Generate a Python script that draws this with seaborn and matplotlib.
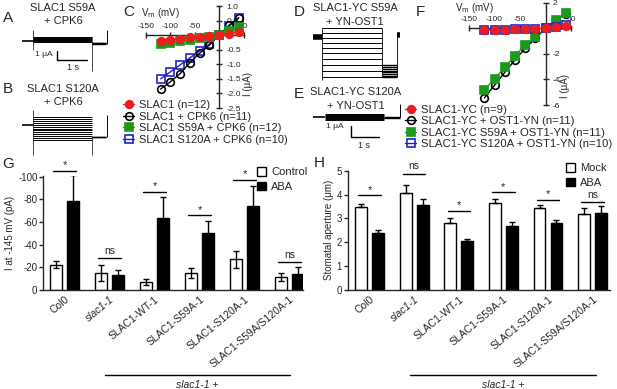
import numpy as np
import pandas as pd
import matplotlib
matplotlib.use('Agg')
import matplotlib.pyplot as plt
from matplotlib.patches import Patch
from matplotlib.lines import Line2D
import seaborn as sns

W, H = 617, 389

# ---------------- data ----------------
# I-V curves (panel C), uA
vm = [-120, -100, -80, -60, -40, -20, 0, 20, 40]
c_slac1 = [-0.2, -0.16, -0.12, -0.08, -0.05, -0.02, 0.0, 0.05, 0.1]
c_slac1_cpk6 = [-1.85, -1.6, -1.32, -0.94, -0.62, -0.34, 0.0, 0.34, 0.6]
c_s59a_cpk6 = [-0.3, -0.26, -0.21, -0.17, -0.11, -0.05, 0.0, 0.15, 0.27]
c_s120a_cpk6 = [-1.5, -1.26, -1.02, -0.78, -0.54, -0.3, 0.0, 0.3, 0.58]
c_labels = ['SLAC1 (n=12)', 'SLAC1 + CPK6 (n=11)',
            'SLAC1 S59A + CPK6 (n=12)', 'SLAC1 S120A + CPK6 (n=10)']

# I-V curves (panel F), uA
f_slac1_yc = [-0.13, -0.12, -0.1, -0.08, -0.06, -0.04, 0.0, 0.1, 0.2]
f_slac1_yc_ost1 = [-5.45, -4.44, -3.44, -2.47, -1.56, -0.78, 0.0, 0.62, 1.15]
f_s59a_ost1 = [-4.82, -3.97, -3.03, -2.15, -1.32, -0.65, 0.0, 0.65, 1.17]
f_s120a_ost1 = [-0.13, -0.12, -0.1, -0.08, -0.06, -0.04, 0.0, 0.12, 0.26]
f_labels = ['SLAC1-YC (n=9)', 'SLAC1-YC + OST1-YN (n=11)',
            'SLAC1-YC S59A + OST1-YN (n=11)', 'SLAC1-YC S120A + OST1-YN (n=10)']

# bar panels
lines = ['Col0', 'slac1-1', 'SLAC1-WT-1', 'SLAC1-S59A-1', 'SLAC1-S120A-1', 'SLAC1-S59A/S120A-1']
g_control = [-22.5, -15, -7, -15, -27, -11.5]
g_control_err = [3.5, 7, 2.3, 4, 7.5, 3.2]
g_aba = [-78.7, -13, -64, -50, -74, -14.5]
g_aba_err = [23, 5, 18, 10.8, 18, 6]
g_sig_y = [-105.5, -28.5, -87, -66, -97, -25]
g_sig = ['*', 'ns', '*', '*', '*', 'ns']

h_mock = [3.48, 4.05, 2.82, 3.63, 3.43, 3.17]
h_mock_err = [0.14, 0.33, 0.21, 0.2, 0.12, 0.25]
h_aba = [2.37, 3.55, 2.05, 2.67, 2.8, 3.21]
h_aba_err = [0.13, 0.25, 0.1, 0.2, 0.13, 0.32]
h_sig_y = [3.97, 4.88, 3.3, 4.09, 3.77, 3.67]
h_sig = ['*', 'ns', '*', '*', '*', 'ns']

# current traces (uA levels during / after the 2 s pulse)
a_levels = [0.48, 0.41, 0.34, 0.27, 0.2, 0.13, 0.06, 0.0, -0.07, -0.14]
a_tail = [-0.2, -0.25, -0.3]
b_levels = [0.89, 0.67, 0.44, 0.22, 0.0, -0.2, -0.4, -0.6, -0.8, -1.0, -1.2, -1.4, -1.67]
b_tail = [-1.3, -1.35]
d_levels = [0.79, 0.34, -0.06, -0.52, -1.03, -1.48, -2.0, -2.55, -3.09, -3.61]
d_tail = [-2.5, -2.7, -2.9, -3.05, -3.2, -3.35, -3.5, -3.65]
e_levels = [0.27, 0.18, 0.1, 0.02, -0.06, -0.14, -0.23]
e_tail = [0.0, -0.08]

# ---------------- style ----------------
sns.set_style('ticks')
plt.rcParams['font.family'] = ['Liberation Sans', 'DejaVu Sans']
plt.rcParams['axes.unicode_minus'] = False
plt.rcParams['axes.linewidth'] = 1.0

fig = plt.figure(figsize=(W / 100, H / 100), dpi=100)


def fx(x):
    return x / W


def fy(y):
    return 1 - y / H


def add_ax(l, t, r, b):
    return fig.add_axes([l / W, 1 - b / H, (r - l) / W, (b - t) / H])


def ftext(x, y, s, **kw):
    kw.setdefault('ha', 'center')
    kw.setdefault('va', 'center')
    fig.text(fx(x), fy(y), s, **kw)


# panel letters
for lab, x, y in [('A', 8, 18), ('B', 8, 89), ('C', 129, 12), ('D', 299, 12),
                  ('E', 299, 94), ('F', 420, 12), ('G', 8, 164), ('H', 319, 163)]:
    ftext(x, y, lab, fontsize=11)


# ---------------- traces ----------------
def blank(ax):
    ax.set_axis_off()


def trace(ax, pre, end, tail_end, levels, tail, hold_lw=1.2):
    ax.hlines(0, pre, 0, color='black', lw=hold_lw)
    ax.hlines(levels, 0, end, color='black', lw=0.7)
    ax.hlines(tail, end, tail_end, color='black', lw=1.0)


axA = add_ax(20, 22, 112, 72)
axA.set_xlim(-0.433, 2.633)
axA.set_ylim(-3.44, 2.11)
trace(axA, -0.37, 1.97, 2.43, a_levels, a_tail)
axA.vlines(0, -1.0, 1.2, color='black', lw=0.5)
axA.vlines(1.97, -3.3, -0.14, color='black', lw=0.5)
axA.vlines(2.46, -0.3, 1.2, color='black', lw=0.7)
axA.plot([0.8, 0.8, 1.8], [-1.11, -2.11, -2.11], color='black', lw=1)
blank(axA)
ftext(44, 55, '1 μA', fontsize=6)
ftext(73, 68, '1 s', fontsize=6.5)
ftext(63, 8, 'SLAC1 S59A', fontsize=8)
ftext(63, 21, '+ CPK6', fontsize=8)

axB = add_ax(20, 92, 112, 157)
axB.set_xlim(-0.433, 2.633)
axB.set_ylim(-3.56, 3.67)
trace(axB, -0.37, 1.97, 2.43, b_levels, b_tail)
axB.vlines(0, -3.3, 1.67, color='black', lw=0.5)
axB.vlines(1.97, -3.3, -1.3, color='black', lw=0.5)
axB.vlines(2.46, -1.3, 1.1, color='black', lw=0.7)
blank(axB)
ftext(63, 89, 'SLAC1 S120A', fontsize=8)
ftext(63, 102, '+ CPK6', fontsize=8)

axD = add_ax(305, 24, 410, 84)
axD.set_xlim(-0.607, 3.143)
axD.set_ylim(-4.27, 1.18)
trace(axD, -0.32, 2.14, 2.68, d_levels, d_tail, hold_lw=4)
axD.vlines(0, -3.9, 0.79, color='black', lw=0.6)
axD.vlines(2.14, -3.61, 0.79, color='black', lw=0.6)
axD.vlines(2.68, -3.65, 0.2, color='black', lw=0.6)
axD.hlines(0.15, 2.68, 2.8, color='black', lw=4)
blank(axD)
ftext(355, 8, 'SLAC1-YC S59A', fontsize=8)
ftext(355, 22, '+ YN-OST1', fontsize=8)

axE = add_ax(305, 100, 410, 150)
axE.set_xlim(-0.714, 3.04)
axE.set_ylim(-3.0, 1.545)
trace(axE, -0.43, 2.1, 2.68, e_levels, e_tail)
axE.vlines(2.68, 0, 1.18, color='black', lw=0.7)
axE.plot([0.93, 0.93, 1.93], [-0.82, -1.82, -1.82], color='black', lw=1)
blank(axE)
ftext(335, 127, '1 μA', fontsize=6)
ftext(364, 146, '1 s', fontsize=6.5)
ftext(356, 92, 'SLAC1-YC S120A', fontsize=8)
ftext(356, 106, '+ YN-OST1', fontsize=8)


# ---------------- I-V panels ----------------
def iv_style(ax, xlim, ylim, xticks, yticks, yfmt):
    ax.set_xlim(xlim)
    ax.set_ylim(ylim)
    ax.spines['left'].set_visible(False)
    ax.spines['bottom'].set_visible(False)
    ax.spines['right'].set_visible(True)
    ax.spines['top'].set_visible(True)
    ax.spines['right'].set_position(('data', 0))
    ax.spines['top'].set_position(('data', 0))
    ax.yaxis.tick_right()
    ax.xaxis.tick_top()
    ax.set_xticks(xticks)
    ax.set_xticklabels([str(t) for t in xticks])
    ax.set_yticks(yticks)
    ax.set_yticklabels([yfmt % t for t in yticks])
    ax.tick_params(axis='both', direction='inout', length=4, width=1, labelsize=6)
    ax.tick_params(axis='x', pad=1.5)
    ax.tick_params(axis='y', pad=3)
    ax.set_xlabel('')
    ax.set_ylabel('')
    ax.patch.set_alpha(0)


def iv_line(ax, y, color, marker, mfc, z):
    sns.lineplot(x=vm, y=y, ax=ax, color=color, marker=marker, markersize=5.5,
                 markerfacecolor=mfc, markeredgecolor=color, markeredgewidth=1.2,
                 lw=1, legend=False, zorder=z)
    return ax.lines[-1]


axC = add_ax(146, 6, 243.6, 108)
hC = [iv_line(axC, c_slac1, '#ee1c1c', 'o', '#ee1c1c', 6),
      iv_line(axC, c_slac1_cpk6, 'black', 'o', 'none', 4),
      iv_line(axC, c_s59a_cpk6, '#1a9a1a', 's', '#1a9a1a', 5),
      iv_line(axC, c_s120a_cpk6, '#2222cc', 's', 'none', 3)]
iv_style(axC, (-150, 45), (-2.5, 1.0), [-150, -100, -50, 50],
         [1.0, 0.5, -0.5, -1.0, -1.5, -2.0, -2.5], '%.1f')
ftext(160, 13, r'V$_\mathrm{m}$ (mV)', fontsize=7)
ftext(248, 84, 'I (μA)', fontsize=7, rotation=90)
fig.legend(hC, c_labels, loc='upper left', bbox_to_anchor=(fx(123), fy(100)),
           frameon=False, fontsize=8, handlelength=1.0, handletextpad=0.4,
           labelspacing=0.15, borderpad=0, borderaxespad=0)

axF = add_ax(469, 2.7, 571.3, 105)
hF = [iv_line(axF, f_slac1_yc, '#ee1c1c', 'o', '#ee1c1c', 6),
      iv_line(axF, f_slac1_yc_ost1, 'black', 'o', 'none', 3),
      iv_line(axF, f_s59a_ost1, '#1a9a1a', 's', '#1a9a1a', 4),
      iv_line(axF, f_s120a_ost1, '#2222cc', 's', 'none', 5)]
iv_style(axF, (-150, 50), (-6, 2), [-150, -100, -50, 50], [2, -2, -4, -6], '%d')
ftext(474, 8, r'V$_\mathrm{m}$ (mV)', fontsize=7)
ftext(565, 86, 'I (μA)', fontsize=7, rotation=90)
fig.legend(hF, f_labels, loc='upper left', bbox_to_anchor=(fx(405), fy(105)),
           frameon=False, fontsize=8.2, handlelength=1.0, handletextpad=0.4,
           labelspacing=0.12, borderpad=0, borderaxespad=0)


# ---------------- bar panels ----------------
def bar_panel(ax, ctrl, ctrl_err, aba, aba_err, names, both_sides, sig_y, sig):
    df = pd.DataFrame({'line': lines * 2, 'value': ctrl + aba,
                       'treat': [names[0]] * len(lines) + [names[1]] * len(lines)})
    sns.barplot(data=df, x='line', y='value', hue='treat', palette=['white', 'black'],
                saturation=1, edgecolor='black', linewidth=1, width=0.76, gap=0.3,
                errorbar=None, legend=False, ax=ax, zorder=2)
    for cont, vals, err in zip(ax.containers, [ctrl, aba], [ctrl_err, aba_err]):
        xs = [b.get_x() + b.get_width() / 2 for b in cont]
        if both_sides:
            yerr = err
        else:
            yerr = [[0] * len(err), err]
        ax.errorbar(xs, vals, yerr=yerr, fmt='none', ecolor='black', elinewidth=1,
                    capsize=2.2, capthick=1, zorder=3)
    span = 0.25
    for i, (yv, s) in enumerate(zip(sig_y, sig)):
        ax.plot([i - span, i + span], [yv, yv], color='black', lw=1, clip_on=False)
        ax.annotate(s, (i, yv), xytext=(0, 0.5 if s == '*' else 1.5),
                    textcoords='offset points', ha='center', va='bottom',
                    fontsize=8 if s == '*' else 7.5, annotation_clip=False)
    sns.despine(ax=ax)
    ax.set_xticks(range(len(lines)))
    ax.set_xticklabels(lines, rotation=40, ha='right', rotation_mode='anchor', fontsize=7.5)
    ax.get_xticklabels()[1].set_fontstyle('italic')
    ax.tick_params(axis='x', length=0, pad=3)
    ax.tick_params(axis='y', length=3, width=1, labelsize=7, pad=1)
    ax.set_xlabel('')
    ax.patch.set_alpha(0)


axG = add_ax(43, 175.7, 303, 290)
bar_panel(axG, g_control, g_control_err, g_aba, g_aba_err, ['Control', 'ABA'], True,
          g_sig_y, g_sig)
axG.set_xlim(-0.48, 5.3)
axG.set_ylim(0, -101)
axG.set_yticks([0, -20, -40, -60, -80, -100])
axG.set_ylabel('I at -145 mV (pA)', fontsize=7, labelpad=2)
fig.legend([Patch(facecolor='white', edgecolor='black'), Patch(facecolor='black', edgecolor='black')],
           ['Control', 'ABA'], loc='upper left', bbox_to_anchor=(fx(257), fy(167)),
           frameon=False, fontsize=8, handlelength=0.8, handleheight=0.8,
           handletextpad=0.45, labelspacing=0.4, borderpad=0, borderaxespad=0)

axH = add_ax(347.7, 170.7, 610, 290)
bar_panel(axH, h_mock, h_mock_err, h_aba, h_aba_err, ['Mock', 'ABA'], False,
          h_sig_y, h_sig)
axH.set_xlim(-0.49, 5.39)
axH.set_ylim(0, 5)
axH.set_yticks([0, 1, 2, 3, 4, 5])
axH.set_ylabel('Stomatal aperture (μm)', fontsize=7, labelpad=2)
fig.legend([Patch(facecolor='white', edgecolor='black'), Patch(facecolor='black', edgecolor='black')],
           ['Mock', 'ABA'], loc='upper left', bbox_to_anchor=(fx(566), fy(163)),
           frameon=False, fontsize=8, handlelength=0.8, handleheight=0.8,
           handletextpad=0.45, labelspacing=0.4, borderpad=0, borderaxespad=0)

# group brackets under the tick labels
for x0, x1 in [(105, 290), (410, 596)]:
    fig.add_artist(Line2D([fx(x0), fx(x1)], [fy(375), fy(375)], color='black', lw=1))
    ftext((x0 + x1) / 2, 385, 'slac1-1 +', fontsize=7.5, style='italic')

fig.savefig('out.png', dpi=100)
